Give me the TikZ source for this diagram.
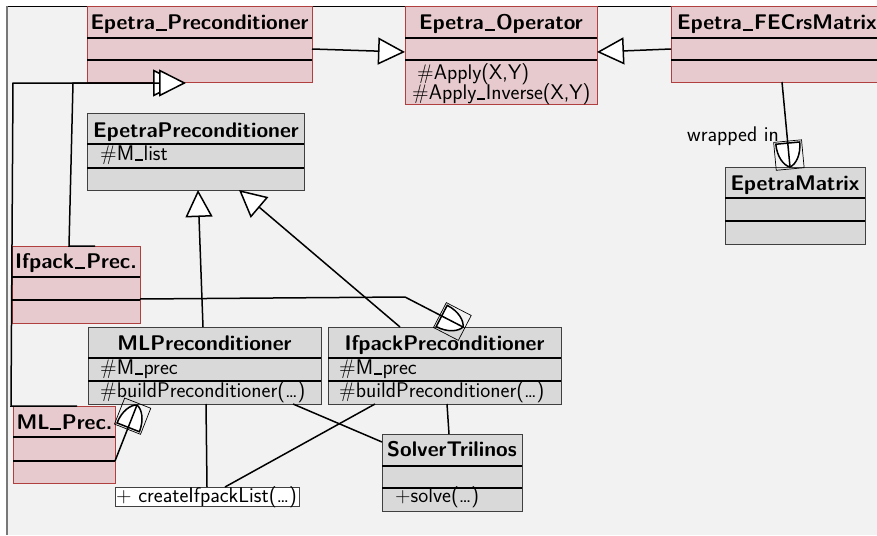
\documentclass[tikz,border=0pt]{standalone}
\usepackage{fontspec}
\usetikzlibrary{arrows.meta,calc}
\definecolor{bgc}{RGB}{242,242,242}
\definecolor{pinkfill}{RGB}{231,202,205}
\definecolor{pinkborder}{RGB}{176,64,64}
\definecolor{grayfill}{RGB}{217,217,217}
\definecolor{grayborder}{RGB}{64,64,64}
\definecolor{framegray}{RGB}{120,120,120}
\newcommand\ubB{\kern0.04em\rule[-0.04em]{0.5em}{0.1em}\kern0.04em}
\newcommand\ubR{\kern0.04em\rule[-0.04em]{0.36em}{0.1em}\kern0.04em}
\tikzset{
  boxbase/.style={line width=0.9pt, inner sep=0pt, outer sep=0pt, anchor=north west},
  pinkbox/.style={boxbase, draw=pinkborder, fill=pinkfill},
  graybox/.style={boxbase, draw=grayborder, fill=grayfill},
  whitebox/.style={boxbase, draw=grayborder, fill=white},
  sepline/.style={line width=1.8pt, black},
  titletext/.style={font=\fontsize{21.2}{25}\selectfont\sffamily\bfseries, anchor=base, inner sep=0pt},
  attrtext/.style={font=\fontsize{21.2}{25}\selectfont\sffamily, anchor=base west, inner sep=0pt},
  conn/.style={line width=1.5pt, black, line join=miter},
  inh/.style={conn, -{Triangle[length=27pt, width=27pt, fill=white]}},
}
\newcommand\classbox[8]{%
  \node[#2, minimum width=#5pt, minimum height=#6pt] (#1) at (#3,#4) {};
  \draw[sepline] (#3,#7) -- ++(#5,0);
  \draw[sepline] (#3,#8) -- ++(#5,0);
}
\newcommand\shield[2]{%
  \pgfmathanglebetweenpoints{\pgfpointanchor{#1}{center}}{\pgfpointanchor{#2}{center}}%
  \let\shang\pgfmathresult
  \begin{scope}[shift={(#2)}, rotate=\shang]
    \draw[line width=0.7pt] (-26,-14) rectangle (2,14);
    \draw[conn, fill=white] (-24,12) .. controls (-11,12) and (-2,6) .. (0,0)
       .. controls (-2,-6) and (-11,-12) .. (-24,-12) -- cycle;
  \end{scope}}
\begin{document}
\begin{tikzpicture}[x=1pt,y=-1pt]
\useasboundingbox (0,0) rectangle (877,535);
\clip (0,0) rectangle (877,535);
\fill[bgc] (7,6) rectangle (877,535);
\draw[black, line width=0.8pt] (7,6) -- (877,6);
\draw[framegray, line width=1.8pt] (7,6) -- (7,535);

% class boxes
\classbox{EPrec}{pinkbox}{87}{6}{225}{76}{38}{60}
\classbox{EOp}{pinkbox}{405}{6}{192}{98}{38}{60}
\classbox{FECrs}{pinkbox}{671}{6}{230}{76}{38}{60}
\classbox{EPc}{graybox}{87}{113}{217}{77}{144}{168}
\classbox{EMat}{graybox}{725}{167}{140}{77}{198}{221}
\classbox{IfP}{pinkbox}{12}{246}{128}{77}{277}{300}
\classbox{MLP}{graybox}{88}{327}{233}{77}{358}{381}
\classbox{IfPc}{graybox}{328}{327}{233}{77}{358}{381}
\classbox{MLPr}{pinkbox}{13}{406}{102}{77}{437}{461}
\classbox{Solver}{graybox}{382}{434}{140}{77}{466}{488}
\node[whitebox, minimum width=184pt, minimum height=19pt] (Create) at (115,487) {};

% titles
\node[titletext] (tEPrec) at (199.5,30) {Epetra\ubB Preconditioner};
\node[titletext] (tEOp) at (501,30) {Epetra\ubB Operator};
\node[titletext, anchor=base west] (tFECrs) at (677,30) {Epetra\ubB FECrsMatrix};
\node[titletext] (tEPc) at (196,137.7) {EpetraPreconditioner};
\node[titletext] (tEMat) at (795,190.7) {EpetraMatrix};
\node[titletext] (tIfP) at (76,268) {Ifpack\ubB Prec.};
\node[titletext] (tMLP) at (204.5,350.7) {MLPreconditioner};
\node[titletext] (tIfPc) at (444.5,350.7) {IfpackPreconditioner};
\node[titletext] (tMLPr) at (64.5,429) {ML\ubB Prec.};
\node[titletext] (tSolver) at (452,456.7) {SolverTrilinos};

% attributes / operations
\node[attrtext] (aApply) at (417,79) {\#Apply(X,Y)};
\node[attrtext] (aApplyInv) at (412,99) {\#Apply\ubR Inverse(X,Y)};
\node[attrtext] (aMlist) at (100,160) {\#M\ubR list};
\node[attrtext] (aMLprec) at (100,374) {\#M\ubR prec};
\node[attrtext] (aMLbuild) at (100,397) {\#buildPreconditioner(\ldots)};
\node[attrtext] (aIfprec) at (339,374) {\#M\ubR prec};
\node[attrtext] (aIfbuild) at (339,397) {\#buildPreconditioner(\ldots)};
\node[attrtext] (aSolve) at (395,502.7) {+solve(\ldots)};
\node[attrtext] (aCreate) at (116,502) {+ createIfpackList(\ldots)};
\node[attrtext] (lWrapped) at (687,141) {wrapped in};

% connector end points
\coordinate (c1a) at (312,49);   \coordinate (c1b) at (405,52);
\coordinate (c2a) at (671,49);   \coordinate (c2b) at (597,52);
\coordinate (c3a) at (203,327);  \coordinate (c3b) at (198,190);
\coordinate (c4a) at (400,327);  \coordinate (c4b) at (239,190);
\coordinate (c5a) at (77,406);   \coordinate (c5m) at (11,406);  \coordinate (c5n) at (13,83);  \coordinate (c5b) at (180,83);
\coordinate (c6a) at (95,246);   \coordinate (c6m) at (69,246);  \coordinate (c6n) at (73,83);  \coordinate (c6b) at (186,83);
\coordinate (c7a) at (140,299);  \coordinate (c7m) at (405,297); \coordinate (c7b) at (463,327);
\coordinate (c8a) at (115,461);  \coordinate (c8b) at (137,405);
\coordinate (c9a) at (782,82);   \coordinate (c9b) at (790,167);
\coordinate (c10a) at (206,404); \coordinate (c10b) at (207,487);
\coordinate (c11a) at (375,404); \coordinate (c11b) at (225,487);
\coordinate (c12a) at (293,404); \coordinate (c12b) at (382,442);
\coordinate (c13a) at (447,404); \coordinate (c13b) at (449,434);

% inheritance
\draw[inh] (c1a) -- (c1b);
\draw[inh] (c2a) -- (c2b);
\draw[inh] (c3a) -- (c3b);
\draw[inh] (c4a) -- (c4b);
\draw[inh] (c5a) -- (c5m) -- (c5n) -- (c5b);
\draw[inh] (c6a) -- (c6m) -- (c6n) -- (c6b);

% wrapped / aggregation style tips
\shield{c7m}{c7b}
\draw[conn] (c7a) -- (c7m) -- (c7b);
\shield{c8a}{c8b}
\draw[conn] (c8a) -- (c8b);
\shield{c9a}{c9b}
\draw[conn] (c9a) -- (c9b);

% plain associations
\draw[conn] (c10a) -- (c10b);
\draw[conn] (c11a) -- (c11b);
\draw[conn] (c12a) -- (c12b);
\draw[conn] (c13a) -- (c13b);
\end{tikzpicture}
\end{document}
